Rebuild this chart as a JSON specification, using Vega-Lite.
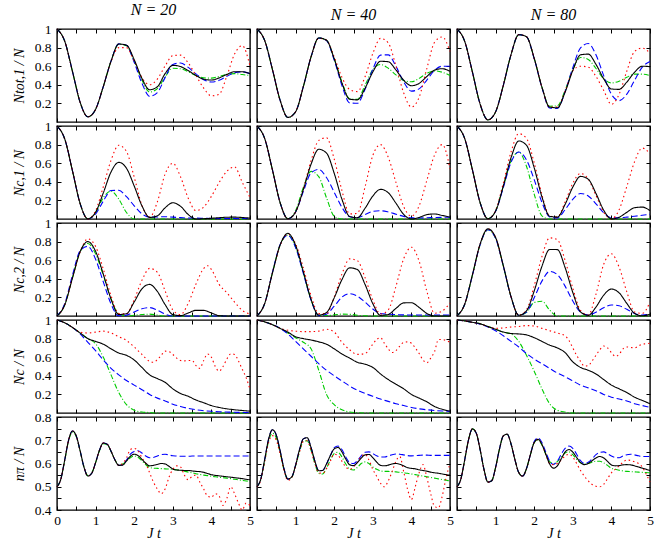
{
"$schema":"https://vega.github.io/schema/vega-lite/v6.json",
"padding":{"left":11,"top":1,"right":0,"bottom":0},
"background":"white",
"bounds":"flush",
"columns":3,
"spacing":{"row":4,"column":7},
"data":{"values":[
{"p":1,"N":20,"t":0,"k":1,"r":1,"b":1,"g":1},
{"p":1,"N":20,"t":0.2,"k":0.869,"r":0.869,"b":0.869,"g":0.869},
{"p":1,"N":20,"t":0.4,"k":0.545,"r":0.545,"b":0.545,"g":0.545},
{"p":1,"N":20,"t":0.6,"k":0.211,"r":0.211,"b":0.211,"g":0.211},
{"p":1,"N":20,"t":0.8,"k":0.056,"r":0.056,"b":0.056,"g":0.056},
{"p":1,"N":20,"t":1,"k":0.137,"r":0.137,"b":0.137,"g":0.137},
{"p":1,"N":20,"t":1.2,"k":0.382,"r":0.382,"b":0.382,"g":0.382},
{"p":1,"N":20,"t":1.4,"k":0.655,"r":0.65,"b":0.655,"g":0.655},
{"p":1,"N":20,"t":1.6,"k":0.838,"r":0.8,"b":0.84,"g":0.838},
{"p":1,"N":20,"t":1.8,"k":0.826,"r":0.8,"b":0.826,"g":0.819},
{"p":1,"N":20,"t":2,"k":0.67,"r":0.657,"b":0.642,"g":0.654},
{"p":1,"N":20,"t":2.2,"k":0.469,"r":0.479,"b":0.417,"g":0.452},
{"p":1,"N":20,"t":2.4,"k":0.347,"r":0.4,"b":0.276,"g":0.322},
{"p":1,"N":20,"t":2.6,"k":0.379,"r":0.462,"b":0.316,"g":0.358},
{"p":1,"N":20,"t":2.8,"k":0.52,"r":0.602,"b":0.477,"g":0.484},
{"p":1,"N":20,"t":3,"k":0.609,"r":0.714,"b":0.619,"g":0.578},
{"p":1,"N":20,"t":3.2,"k":0.596,"r":0.719,"b":0.634,"g":0.572},
{"p":1,"N":20,"t":3.4,"k":0.553,"r":0.635,"b":0.587,"g":0.54},
{"p":1,"N":20,"t":3.6,"k":0.5,"r":0.5,"b":0.517,"g":0.501},
{"p":1,"N":20,"t":3.8,"k":0.46,"r":0.365,"b":0.455,"g":0.474},
{"p":1,"N":20,"t":4,"k":0.451,"r":0.281,"b":0.43,"g":0.472},
{"p":1,"N":20,"t":4.2,"k":0.474,"r":0.299,"b":0.448,"g":0.489},
{"p":1,"N":20,"t":4.4,"k":0.512,"r":0.494,"b":0.491,"g":0.511},
{"p":1,"N":20,"t":4.6,"k":0.541,"r":0.731,"b":0.53,"g":0.52},
{"p":1,"N":20,"t":4.8,"k":0.54,"r":0.82,"b":0.54,"g":0.51},
{"p":1,"N":20,"t":5,"k":0.52,"r":0.6,"b":0.52,"g":0.5},
{"p":1,"N":40,"t":0,"k":1,"r":1,"b":1,"g":1},
{"p":1,"N":40,"t":0.2,"k":0.875,"r":0.875,"b":0.875,"g":0.875},
{"p":1,"N":40,"t":0.4,"k":0.564,"r":0.564,"b":0.564,"g":0.564},
{"p":1,"N":40,"t":0.6,"k":0.232,"r":0.232,"b":0.232,"g":0.232},
{"p":1,"N":40,"t":0.8,"k":0.049,"r":0.049,"b":0.049,"g":0.049},
{"p":1,"N":40,"t":1,"k":0.11,"r":0.11,"b":0.11,"g":0.11},
{"p":1,"N":40,"t":1.2,"k":0.38,"r":0.38,"b":0.38,"g":0.38},
{"p":1,"N":40,"t":1.4,"k":0.7,"r":0.7,"b":0.7,"g":0.7},
{"p":1,"N":40,"t":1.6,"k":0.904,"r":0.9,"b":0.904,"g":0.904},
{"p":1,"N":40,"t":1.8,"k":0.879,"r":0.88,"b":0.876,"g":0.879},
{"p":1,"N":40,"t":2,"k":0.68,"r":0.7,"b":0.666,"g":0.68},
{"p":1,"N":40,"t":2.2,"k":0.42,"r":0.48,"b":0.393,"g":0.43},
{"p":1,"N":40,"t":2.4,"k":0.245,"r":0.35,"b":0.206,"g":0.25},
{"p":1,"N":40,"t":2.6,"k":0.238,"r":0.327,"b":0.201,"g":0.243},
{"p":1,"N":40,"t":2.8,"k":0.363,"r":0.487,"b":0.353,"g":0.396},
{"p":1,"N":40,"t":3,"k":0.538,"r":0.736,"b":0.567,"g":0.564},
{"p":1,"N":40,"t":3.2,"k":0.653,"r":0.899,"b":0.719,"g":0.618},
{"p":1,"N":40,"t":3.4,"k":0.648,"r":0.851,"b":0.722,"g":0.578},
{"p":1,"N":40,"t":3.6,"k":0.559,"r":0.603,"b":0.599,"g":0.506},
{"p":1,"N":40,"t":3.8,"k":0.449,"r":0.313,"b":0.432,"g":0.446},
{"p":1,"N":40,"t":4,"k":0.39,"r":0.161,"b":0.332,"g":0.432},
{"p":1,"N":40,"t":4.2,"k":0.415,"r":0.266,"b":0.356,"g":0.469},
{"p":1,"N":40,"t":4.4,"k":0.489,"r":0.574,"b":0.451,"g":0.524},
{"p":1,"N":40,"t":4.6,"k":0.558,"r":0.858,"b":0.556,"g":0.55},
{"p":1,"N":40,"t":4.8,"k":0.573,"r":0.915,"b":0.6,"g":0.535},
{"p":1,"N":40,"t":5,"k":0.545,"r":0.76,"b":0.6,"g":0.5},
{"p":1,"N":80,"t":0,"k":1,"r":1,"b":1,"g":1},
{"p":1,"N":80,"t":0.2,"k":0.867,"r":0.867,"b":0.867,"g":0.867},
{"p":1,"N":80,"t":0.4,"k":0.537,"r":0.537,"b":0.537,"g":0.537},
{"p":1,"N":80,"t":0.6,"k":0.191,"r":0.191,"b":0.191,"g":0.191},
{"p":1,"N":80,"t":0.8,"k":0.023,"r":0.023,"b":0.023,"g":0.023},
{"p":1,"N":80,"t":1,"k":0.109,"r":0.109,"b":0.109,"g":0.109},
{"p":1,"N":80,"t":1.2,"k":0.394,"r":0.394,"b":0.394,"g":0.394},
{"p":1,"N":80,"t":1.4,"k":0.725,"r":0.725,"b":0.725,"g":0.725},
{"p":1,"N":80,"t":1.6,"k":0.939,"r":0.939,"b":0.939,"g":0.939},
{"p":1,"N":80,"t":1.8,"k":0.917,"r":0.917,"b":0.917,"g":0.917},
{"p":1,"N":80,"t":2,"k":0.685,"r":0.685,"b":0.68,"g":0.685},
{"p":1,"N":80,"t":2.2,"k":0.375,"r":0.375,"b":0.37,"g":0.375},
{"p":1,"N":80,"t":2.4,"k":0.16,"r":0.16,"b":0.15,"g":0.17},
{"p":1,"N":80,"t":2.6,"k":0.153,"r":0.16,"b":0.145,"g":0.174},
{"p":1,"N":80,"t":2.8,"k":0.32,"r":0.33,"b":0.327,"g":0.34},
{"p":1,"N":80,"t":3,"k":0.555,"r":0.55,"b":0.585,"g":0.563},
{"p":1,"N":80,"t":3.2,"k":0.722,"r":0.6,"b":0.797,"g":0.694},
{"p":1,"N":80,"t":3.4,"k":0.73,"r":0.59,"b":0.844,"g":0.673},
{"p":1,"N":80,"t":3.6,"k":0.62,"r":0.49,"b":0.722,"g":0.575},
{"p":1,"N":80,"t":3.8,"k":0.465,"r":0.34,"b":0.499,"g":0.466},
{"p":1,"N":80,"t":4,"k":0.355,"r":0.19,"b":0.298,"g":0.42},
{"p":1,"N":80,"t":4.2,"k":0.351,"r":0.299,"b":0.23,"g":0.439},
{"p":1,"N":80,"t":4.4,"k":0.43,"r":0.548,"b":0.3,"g":0.481},
{"p":1,"N":80,"t":4.6,"k":0.535,"r":0.759,"b":0.448,"g":0.515},
{"p":1,"N":80,"t":4.8,"k":0.6,"r":0.795,"b":0.59,"g":0.515},
{"p":1,"N":80,"t":5,"k":0.595,"r":0.74,"b":0.65,"g":0.5},
{"p":2,"N":20,"t":0,"k":1,"r":1,"b":1,"g":1},
{"p":2,"N":20,"t":0.2,"k":0.861,"r":0.861,"b":0.861,"g":0.861},
{"p":2,"N":20,"t":0.4,"k":0.519,"r":0.519,"b":0.519,"g":0.519},
{"p":2,"N":20,"t":0.6,"k":0.165,"r":0.165,"b":0.165,"g":0.165},
{"p":2,"N":20,"t":0.8,"k":0.001,"r":0.001,"b":0.001,"g":0.001},
{"p":2,"N":20,"t":1,"k":0.073,"r":0.089,"b":0.053,"g":0.07},
{"p":2,"N":20,"t":1.2,"k":0.281,"r":0.347,"b":0.193,"g":0.231},
{"p":2,"N":20,"t":1.4,"k":0.506,"r":0.632,"b":0.306,"g":0.3},
{"p":2,"N":20,"t":1.6,"k":0.609,"r":0.793,"b":0.309,"g":0.214},
{"p":2,"N":20,"t":1.8,"k":0.546,"r":0.726,"b":0.24,"g":0.07},
{"p":2,"N":20,"t":2,"k":0.355,"r":0.451,"b":0.142,"g":0},
{"p":2,"N":20,"t":2.2,"k":0.142,"r":0.147,"b":0.055,"g":0},
{"p":2,"N":20,"t":2.4,"k":0.017,"r":0.02,"b":0.02,"g":0},
{"p":2,"N":20,"t":2.6,"k":0.034,"r":0.184,"b":0.022,"g":0},
{"p":2,"N":20,"t":2.8,"k":0.12,"r":0.482,"b":0.025,"g":0},
{"p":2,"N":20,"t":3,"k":0.175,"r":0.6,"b":0.02,"g":0},
{"p":2,"N":20,"t":3.2,"k":0.137,"r":0.454,"b":0.015,"g":0},
{"p":2,"N":20,"t":3.4,"k":0.048,"r":0.224,"b":0.01,"g":0},
{"p":2,"N":20,"t":3.6,"k":0,"r":0.09,"b":0.01,"g":0},
{"p":2,"N":20,"t":3.8,"k":0.003,"r":0.128,"b":0.008,"g":0},
{"p":2,"N":20,"t":4,"k":0.008,"r":0.244,"b":0.006,"g":0},
{"p":2,"N":20,"t":4.2,"k":0.014,"r":0.392,"b":0.005,"g":0},
{"p":2,"N":20,"t":4.4,"k":0.019,"r":0.513,"b":0.005,"g":0},
{"p":2,"N":20,"t":4.6,"k":0.02,"r":0.56,"b":0.005,"g":0},
{"p":2,"N":20,"t":4.8,"k":0.016,"r":0.395,"b":0.005,"g":0},
{"p":2,"N":20,"t":5,"k":0.01,"r":0.23,"b":0.005,"g":0},
{"p":2,"N":40,"t":0,"k":1,"r":1,"b":1,"g":1},
{"p":2,"N":40,"t":0.2,"k":0.864,"r":0.864,"b":0.864,"g":0.864},
{"p":2,"N":40,"t":0.4,"k":0.528,"r":0.528,"b":0.528,"g":0.528},
{"p":2,"N":40,"t":0.6,"k":0.175,"r":0.175,"b":0.175,"g":0.175},
{"p":2,"N":40,"t":0.8,"k":0.003,"r":0.003,"b":0.003,"g":0.003},
{"p":2,"N":40,"t":1,"k":0.076,"r":0.076,"b":0.075,"g":0.09},
{"p":2,"N":40,"t":1.2,"k":0.316,"r":0.322,"b":0.294,"g":0.338},
{"p":2,"N":40,"t":1.4,"k":0.589,"r":0.626,"b":0.496,"g":0.512},
{"p":2,"N":40,"t":1.6,"k":0.75,"r":0.845,"b":0.533,"g":0.455},
{"p":2,"N":40,"t":1.8,"k":0.709,"r":0.873,"b":0.446,"g":0.229},
{"p":2,"N":40,"t":2,"k":0.492,"r":0.645,"b":0.288,"g":0.03},
{"p":2,"N":40,"t":2.2,"k":0.213,"r":0.307,"b":0.126,"g":0},
{"p":2,"N":40,"t":2.4,"k":0.027,"r":0.055,"b":0.024,"g":0},
{"p":2,"N":40,"t":2.6,"k":0.014,"r":0.061,"b":0.015,"g":0},
{"p":2,"N":40,"t":2.8,"k":0.116,"r":0.346,"b":0.047,"g":0},
{"p":2,"N":40,"t":3,"k":0.247,"r":0.683,"b":0.082,"g":0},
{"p":2,"N":40,"t":3.2,"k":0.319,"r":0.8,"b":0.089,"g":0},
{"p":2,"N":40,"t":3.4,"k":0.283,"r":0.664,"b":0.076,"g":0},
{"p":2,"N":40,"t":3.6,"k":0.17,"r":0.393,"b":0.052,"g":0},
{"p":2,"N":40,"t":3.8,"k":0.049,"r":0.134,"b":0.028,"g":0},
{"p":2,"N":40,"t":4,"k":0,"r":0.03,"b":0.012,"g":0},
{"p":2,"N":40,"t":4.2,"k":0.017,"r":0.142,"b":0.011,"g":0},
{"p":2,"N":40,"t":4.4,"k":0.047,"r":0.415,"b":0.013,"g":0},
{"p":2,"N":40,"t":4.6,"k":0.054,"r":0.688,"b":0.016,"g":0},
{"p":2,"N":40,"t":4.8,"k":0.038,"r":0.8,"b":0.018,"g":0},
{"p":2,"N":40,"t":5,"k":0.02,"r":0.54,"b":0.02,"g":0},
{"p":2,"N":80,"t":0,"k":1,"r":1,"b":1,"g":1},
{"p":2,"N":80,"t":0.2,"k":0.864,"r":0.864,"b":0.864,"g":0.864},
{"p":2,"N":80,"t":0.4,"k":0.528,"r":0.528,"b":0.528,"g":0.528},
{"p":2,"N":80,"t":0.6,"k":0.175,"r":0.175,"b":0.175,"g":0.175},
{"p":2,"N":80,"t":0.8,"k":0.003,"r":0.003,"b":0.003,"g":0.003},
{"p":2,"N":80,"t":1,"k":0.085,"r":0.093,"b":0.083,"g":0.087},
{"p":2,"N":80,"t":1.2,"k":0.354,"r":0.387,"b":0.338,"g":0.352},
{"p":2,"N":80,"t":1.4,"k":0.659,"r":0.721,"b":0.609,"g":0.621},
{"p":2,"N":80,"t":1.6,"k":0.839,"r":0.918,"b":0.72,"g":0.72},
{"p":2,"N":80,"t":1.8,"k":0.793,"r":0.868,"b":0.636,"g":0.567},
{"p":2,"N":80,"t":2,"k":0.551,"r":0.603,"b":0.423,"g":0.267},
{"p":2,"N":80,"t":2.2,"k":0.238,"r":0.26,"b":0.18,"g":0.034},
{"p":2,"N":80,"t":2.4,"k":0.03,"r":0.033,"b":0.022,"g":0},
{"p":2,"N":80,"t":2.6,"k":0.02,"r":0.023,"b":0.012,"g":0},
{"p":2,"N":80,"t":2.8,"k":0.157,"r":0.182,"b":0.1,"g":0},
{"p":2,"N":80,"t":3,"k":0.343,"r":0.385,"b":0.212,"g":0},
{"p":2,"N":80,"t":3.2,"k":0.458,"r":0.49,"b":0.274,"g":0},
{"p":2,"N":80,"t":3.4,"k":0.428,"r":0.429,"b":0.248,"g":0},
{"p":2,"N":80,"t":3.6,"k":0.275,"r":0.255,"b":0.163,"g":0},
{"p":2,"N":80,"t":3.8,"k":0.095,"r":0.073,"b":0.068,"g":0},
{"p":2,"N":80,"t":4,"k":0.001,"r":0,"b":0.012,"g":0},
{"p":2,"N":80,"t":4.2,"k":0.019,"r":0.1,"b":0.013,"g":0},
{"p":2,"N":80,"t":4.4,"k":0.072,"r":0.35,"b":0.02,"g":0},
{"p":2,"N":80,"t":4.6,"k":0.121,"r":0.616,"b":0.03,"g":0},
{"p":2,"N":80,"t":4.8,"k":0.128,"r":0.763,"b":0.04,"g":0},
{"p":2,"N":80,"t":5,"k":0.09,"r":0.7,"b":0.05,"g":0},
{"p":3,"N":20,"t":0,"k":0,"r":0,"b":0,"g":0},
{"p":3,"N":20,"t":0.2,"k":0.119,"r":0.12,"b":0.131,"g":0.122},
{"p":3,"N":20,"t":0.4,"k":0.407,"r":0.41,"b":0.437,"g":0.413},
{"p":3,"N":20,"t":0.6,"k":0.692,"r":0.69,"b":0.702,"g":0.691},
{"p":3,"N":20,"t":0.8,"k":0.8,"r":0.83,"b":0.749,"g":0.78},
{"p":3,"N":20,"t":1,"k":0.695,"r":0.747,"b":0.61,"g":0.668},
{"p":3,"N":20,"t":1.2,"k":0.449,"r":0.504,"b":0.367,"g":0.437},
{"p":3,"N":20,"t":1.4,"k":0.182,"r":0.217,"b":0.129,"g":0.182},
{"p":3,"N":20,"t":1.6,"k":0.016,"r":0.027,"b":0.002,"g":0.022},
{"p":3,"N":20,"t":1.8,"k":0.025,"r":0.022,"b":0.009,"g":0.002},
{"p":3,"N":20,"t":2,"k":0.151,"r":0.176,"b":0.043,"g":0.008},
{"p":3,"N":20,"t":2.2,"k":0.292,"r":0.383,"b":0.078,"g":0.016},
{"p":3,"N":20,"t":2.4,"k":0.34,"r":0.512,"b":0.09,"g":0.02},
{"p":3,"N":20,"t":2.6,"k":0.264,"r":0.47,"b":0.063,"g":0.01},
{"p":3,"N":20,"t":2.8,"k":0.123,"r":0.271,"b":0.021,"g":0},
{"p":3,"N":20,"t":3,"k":0.015,"r":0.066,"b":0,"g":0},
{"p":3,"N":20,"t":3.2,"k":0.004,"r":0.015,"b":0,"g":0},
{"p":3,"N":20,"t":3.4,"k":0.033,"r":0.137,"b":0,"g":0},
{"p":3,"N":20,"t":3.6,"k":0.061,"r":0.344,"b":0,"g":0},
{"p":3,"N":20,"t":3.8,"k":0.061,"r":0.51,"b":0,"g":0},
{"p":3,"N":20,"t":3.9,"r":0.54},
{"p":3,"N":20,"t":4,"k":0.033,"r":0.5,"b":0,"g":0},
{"p":3,"N":20,"t":4.2,"k":0.004,"r":0.34,"b":0,"g":0},
{"p":3,"N":20,"t":4.4,"k":0,"r":0.25,"b":0,"g":0},
{"p":3,"N":20,"t":4.6,"k":0,"r":0.15,"b":0,"g":0},
{"p":3,"N":20,"t":4.8,"k":0,"r":0.06,"b":0,"g":0},
{"p":3,"N":20,"t":5,"k":0,"r":0.02,"b":0,"g":0},
{"p":3,"N":40,"t":0,"k":0,"r":0,"b":0,"g":0},
{"p":3,"N":40,"t":0.2,"k":0.136,"r":0.135,"b":0.135,"g":0.135},
{"p":3,"N":40,"t":0.4,"k":0.463,"r":0.46,"b":0.47,"g":0.465},
{"p":3,"N":40,"t":0.6,"k":0.765,"r":0.76,"b":0.77,"g":0.765},
{"p":3,"N":40,"t":0.8,"k":0.889,"r":0.88,"b":0.868,"g":0.87},
{"p":3,"N":40,"t":1,"k":0.76,"r":0.778,"b":0.735,"g":0.74},
{"p":3,"N":40,"t":1.2,"k":0.477,"r":0.517,"b":0.458,"g":0.465},
{"p":3,"N":40,"t":1.4,"k":0.178,"r":0.22,"b":0.171,"g":0.175},
{"p":3,"N":40,"t":1.6,"k":0.01,"r":0.026,"b":0.004,"g":0.005},
{"p":3,"N":40,"t":1.8,"k":0.037,"r":0.025,"b":0.02,"g":0.005},
{"p":3,"N":40,"t":2,"k":0.195,"r":0.203,"b":0.105,"g":0.012},
{"p":3,"N":40,"t":2.2,"k":0.391,"r":0.45,"b":0.202,"g":0.02},
{"p":3,"N":40,"t":2.4,"k":0.518,"r":0.614,"b":0.24,"g":0.018},
{"p":3,"N":40,"t":2.6,"k":0.5,"r":0.595,"b":0.214,"g":0.008},
{"p":3,"N":40,"t":2.8,"k":0.339,"r":0.412,"b":0.149,"g":0.002},
{"p":3,"N":40,"t":3,"k":0.133,"r":0.173,"b":0.075,"g":0},
{"p":3,"N":40,"t":3.2,"k":0.007,"r":0.022,"b":0.027,"g":0},
{"p":3,"N":40,"t":3.4,"k":0.017,"r":0.065,"b":0.02,"g":0},
{"p":3,"N":40,"t":3.6,"k":0.082,"r":0.32,"b":0.015,"g":0},
{"p":3,"N":40,"t":3.8,"k":0.141,"r":0.616,"b":0.012,"g":0},
{"p":3,"N":40,"t":4,"k":0.143,"r":0.74,"b":0.01,"g":0},
{"p":3,"N":40,"t":4.2,"k":0.092,"r":0.59,"b":0.01,"g":0},
{"p":3,"N":40,"t":4.4,"k":0.028,"r":0.266,"b":0.01,"g":0},
{"p":3,"N":40,"t":4.6,"k":0,"r":0.03,"b":0.01,"g":0},
{"p":3,"N":40,"t":4.8,"k":0,"r":0.054,"b":0.01,"g":0},
{"p":3,"N":40,"t":5,"k":0,"r":0.14,"b":0.01,"g":0},
{"p":3,"N":80,"t":0,"k":0,"r":0,"b":0,"g":0},
{"p":3,"N":80,"t":0.2,"k":0.128,"r":0.128,"b":0.127,"g":0.127},
{"p":3,"N":80,"t":0.4,"k":0.444,"r":0.444,"b":0.439,"g":0.439},
{"p":3,"N":80,"t":0.6,"k":0.776,"r":0.776,"b":0.768,"g":0.768},
{"p":3,"N":80,"t":0.8,"k":0.937,"r":0.937,"b":0.927,"g":0.927},
{"p":3,"N":80,"t":1,"k":0.845,"r":0.845,"b":0.836,"g":0.836},
{"p":3,"N":80,"t":1.2,"k":0.541,"r":0.541,"b":0.536,"g":0.536},
{"p":3,"N":80,"t":1.4,"k":0.207,"r":0.207,"b":0.205,"g":0.205},
{"p":3,"N":80,"t":1.6,"k":0.008,"r":0.008,"b":0.008,"g":0.008},
{"p":3,"N":80,"t":1.8,"k":0.055,"r":0.067,"b":0.041,"g":0.039},
{"p":3,"N":80,"t":2,"k":0.269,"r":0.325,"b":0.197,"g":0.145},
{"p":3,"N":80,"t":2.2,"k":0.534,"r":0.639,"b":0.375,"g":0.159},
{"p":3,"N":80,"t":2.4,"k":0.715,"r":0.84,"b":0.479,"g":0.063},
{"p":3,"N":80,"t":2.6,"k":0.714,"r":0.82,"b":0.445,"g":0},
{"p":3,"N":80,"t":2.8,"k":0.521,"r":0.598,"b":0.321,"g":0},
{"p":3,"N":80,"t":3,"k":0.253,"r":0.299,"b":0.161,"g":0},
{"p":3,"N":80,"t":3.2,"k":0.044,"r":0.06,"b":0.041,"g":0},
{"p":3,"N":80,"t":3.4,"k":0.007,"r":0.011,"b":0.011,"g":0},
{"p":3,"N":80,"t":3.6,"k":0.096,"r":0.234,"b":0.041,"g":0},
{"p":3,"N":80,"t":3.8,"k":0.223,"r":0.556,"b":0.088,"g":0},
{"p":3,"N":80,"t":4,"k":0.29,"r":0.669,"b":0.119,"g":0},
{"p":3,"N":80,"t":4.2,"k":0.249,"r":0.525,"b":0.111,"g":0},
{"p":3,"N":80,"t":4.4,"k":0.135,"r":0.259,"b":0.072,"g":0},
{"p":3,"N":80,"t":4.6,"k":0.029,"r":0.042,"b":0.028,"g":0},
{"p":3,"N":80,"t":4.8,"k":0.002,"r":0.028,"b":0.01,"g":0},
{"p":3,"N":80,"t":5,"k":0.02,"r":0.15,"b":0.02,"g":0},
{"p":4,"N":20,"t":0,"k":1,"r":1,"b":1,"g":1},
{"p":4,"N":20,"t":0.2,"k":0.97,"r":0.97,"b":0.97,"g":0.97},
{"p":4,"N":20,"t":0.4,"k":0.92,"r":0.92,"b":0.92,"g":0.92},
{"p":4,"N":20,"t":0.6,"k":0.86,"r":0.87,"b":0.85,"g":0.86},
{"p":4,"N":20,"t":0.8,"k":0.8,"r":0.86,"b":0.76,"g":0.8},
{"p":4,"N":20,"t":1,"k":0.77,"r":0.87,"b":0.67,"g":0.745},
{"p":4,"N":20,"t":1.2,"k":0.74,"r":0.88,"b":0.57,"g":0.6},
{"p":4,"N":20,"t":1.4,"k":0.69,"r":0.86,"b":0.48,"g":0.41},
{"p":4,"N":20,"t":1.6,"k":0.645,"r":0.82,"b":0.41,"g":0.22},
{"p":4,"N":20,"t":1.8,"k":0.62,"r":0.78,"b":0.35,"g":0.09},
{"p":4,"N":20,"t":2,"k":0.57,"r":0.71,"b":0.3,"g":0.03},
{"p":4,"N":20,"t":2.2,"k":0.49,"r":0.63,"b":0.25,"g":0.01},
{"p":4,"N":20,"t":2.4,"k":0.41,"r":0.555,"b":0.2,"g":0.005},
{"p":4,"N":20,"t":2.6,"k":0.37,"r":0.575,"b":0.16,"g":0},
{"p":4,"N":20,"t":2.8,"k":0.33,"r":0.665,"b":0.13,"g":0},
{"p":4,"N":20,"t":3,"k":0.26,"r":0.63,"b":0.095,"g":0},
{"p":4,"N":20,"t":3.2,"k":0.21,"r":0.565,"b":0.07,"g":0},
{"p":4,"N":20,"t":3.4,"k":0.18,"r":0.565,"b":0.05,"g":0},
{"p":4,"N":20,"t":3.6,"k":0.14,"r":0.51,"b":0.035,"g":0},
{"p":4,"N":20,"t":3.8,"k":0.11,"r":0.565,"b":0.025,"g":0},
{"p":4,"N":20,"t":4,"k":0.08,"r":0.6,"b":0.018,"g":0},
{"p":4,"N":20,"t":4.2,"k":0.06,"r":0.45,"b":0.013,"g":0},
{"p":4,"N":20,"t":4.4,"k":0.045,"r":0.58,"b":0.01,"g":0},
{"p":4,"N":20,"t":4.6,"k":0.035,"r":0.63,"b":0.008,"g":0},
{"p":4,"N":20,"t":4.8,"k":0.027,"r":0.47,"b":0.006,"g":0},
{"p":4,"N":20,"t":5,"k":0.02,"r":0.255,"b":0.005,"g":0},
{"p":4,"N":20,"t":2.5,"r":0.545},{"p":4,"N":20,"t":2.7,"r":0.62},{"p":4,"N":20,"t":2.9,"r":0.66},{"p":4,"N":20,"t":3.1,"r":0.59},{"p":4,"N":20,"t":3.3,"r":0.56},{"p":4,"N":20,"t":3.5,"r":0.565},{"p":4,"N":20,"t":3.7,"r":0.48},{"p":4,"N":20,"t":3.9,"r":0.635},{"p":4,"N":20,"t":4.1,"r":0.5},{"p":4,"N":20,"t":4.3,"r":0.5},{"p":4,"N":20,"t":4.5,"r":0.635},{"p":4,"N":20,"t":4.7,"r":0.56},{"p":4,"N":20,"t":4.9,"r":0.38},
{"p":4,"N":40,"t":0,"k":1,"r":1,"b":1,"g":1},
{"p":4,"N":40,"t":0.2,"k":0.98,"r":0.98,"b":0.98,"g":0.98},
{"p":4,"N":40,"t":0.4,"k":0.95,"r":0.95,"b":0.95,"g":0.95},
{"p":4,"N":40,"t":0.6,"k":0.91,"r":0.91,"b":0.91,"g":0.91},
{"p":4,"N":40,"t":0.8,"k":0.87,"r":0.89,"b":0.85,"g":0.86},
{"p":4,"N":40,"t":1,"k":0.82,"r":0.88,"b":0.77,"g":0.81},
{"p":4,"N":40,"t":1.2,"k":0.8,"r":0.875,"b":0.69,"g":0.76},
{"p":4,"N":40,"t":1.4,"k":0.785,"r":0.875,"b":0.61,"g":0.69},
{"p":4,"N":40,"t":1.6,"k":0.765,"r":0.88,"b":0.53,"g":0.46},
{"p":4,"N":40,"t":1.8,"k":0.74,"r":0.9,"b":0.46,"g":0.2},
{"p":4,"N":40,"t":2,"k":0.69,"r":0.87,"b":0.4,"g":0.09},
{"p":4,"N":40,"t":2.2,"k":0.635,"r":0.76,"b":0.345,"g":0.035},
{"p":4,"N":40,"t":2.4,"k":0.59,"r":0.68,"b":0.29,"g":0.01},
{"p":4,"N":40,"t":2.6,"k":0.545,"r":0.63,"b":0.245,"g":0.003},
{"p":4,"N":40,"t":2.8,"k":0.525,"r":0.64,"b":0.21,"g":0},
{"p":4,"N":40,"t":3,"k":0.49,"r":0.74,"b":0.18,"g":0},
{"p":4,"N":40,"t":3.2,"k":0.42,"r":0.81,"b":0.15,"g":0},
{"p":4,"N":40,"t":3.4,"k":0.36,"r":0.69,"b":0.125,"g":0},
{"p":4,"N":40,"t":3.6,"k":0.31,"r":0.67,"b":0.1,"g":0},
{"p":4,"N":40,"t":3.8,"k":0.26,"r":0.76,"b":0.08,"g":0},
{"p":4,"N":40,"t":4,"k":0.2,"r":0.75,"b":0.06,"g":0},
{"p":4,"N":40,"t":4.2,"k":0.16,"r":0.64,"b":0.045,"g":0},
{"p":4,"N":40,"t":4.4,"k":0.12,"r":0.54,"b":0.035,"g":0},
{"p":4,"N":40,"t":4.6,"k":0.07,"r":0.66,"b":0.027,"g":0},
{"p":4,"N":40,"t":4.8,"k":0.04,"r":0.79,"b":0.022,"g":0},
{"p":4,"N":40,"t":5,"k":0.02,"r":0.76,"b":0.018,"g":0},
{"p":4,"N":40,"t":3.1,"r":0.79},{"p":4,"N":40,"t":3.3,"r":0.75},{"p":4,"N":40,"t":3.5,"r":0.65},{"p":4,"N":40,"t":3.7,"r":0.72},{"p":4,"N":40,"t":3.9,"r":0.765},{"p":4,"N":40,"t":4.1,"r":0.7},{"p":4,"N":40,"t":4.3,"r":0.57},{"p":4,"N":40,"t":4.5,"r":0.59},{"p":4,"N":40,"t":4.7,"r":0.79},{"p":4,"N":40,"t":4.9,"r":0.78},
{"p":4,"N":80,"t":0,"k":1,"r":1,"b":1,"g":1},
{"p":4,"N":80,"t":0.2,"k":0.99,"r":0.99,"b":0.99,"g":0.99},
{"p":4,"N":80,"t":0.4,"k":0.975,"r":0.975,"b":0.975,"g":0.975},
{"p":4,"N":80,"t":0.6,"k":0.96,"r":0.96,"b":0.955,"g":0.96},
{"p":4,"N":80,"t":0.8,"k":0.93,"r":0.93,"b":0.925,"g":0.93},
{"p":4,"N":80,"t":1,"k":0.9,"r":0.91,"b":0.885,"g":0.9},
{"p":4,"N":80,"t":1.2,"k":0.87,"r":0.915,"b":0.83,"g":0.87},
{"p":4,"N":80,"t":1.4,"k":0.855,"r":0.925,"b":0.77,"g":0.85},
{"p":4,"N":80,"t":1.6,"k":0.85,"r":0.93,"b":0.71,"g":0.77},
{"p":4,"N":80,"t":1.8,"k":0.84,"r":0.94,"b":0.64,"g":0.62},
{"p":4,"N":80,"t":2,"k":0.81,"r":0.935,"b":0.58,"g":0.45},
{"p":4,"N":80,"t":2.2,"k":0.77,"r":0.91,"b":0.53,"g":0.26},
{"p":4,"N":80,"t":2.4,"k":0.73,"r":0.885,"b":0.48,"g":0.1},
{"p":4,"N":80,"t":2.6,"k":0.7,"r":0.86,"b":0.43,"g":0.03},
{"p":4,"N":80,"t":2.8,"k":0.65,"r":0.83,"b":0.39,"g":0.01},
{"p":4,"N":80,"t":3,"k":0.55,"r":0.7,"b":0.345,"g":0},
{"p":4,"N":80,"t":3.2,"k":0.49,"r":0.555,"b":0.3,"g":0},
{"p":4,"N":80,"t":3.4,"k":0.46,"r":0.51,"b":0.27,"g":0},
{"p":4,"N":80,"t":3.6,"k":0.42,"r":0.62,"b":0.24,"g":0},
{"p":4,"N":80,"t":3.8,"k":0.36,"r":0.72,"b":0.2,"g":0},
{"p":4,"N":80,"t":4,"k":0.3,"r":0.65,"b":0.17,"g":0},
{"p":4,"N":80,"t":4.2,"k":0.26,"r":0.63,"b":0.15,"g":0},
{"p":4,"N":80,"t":4.4,"k":0.22,"r":0.71,"b":0.13,"g":0},
{"p":4,"N":80,"t":4.6,"k":0.17,"r":0.7,"b":0.1,"g":0},
{"p":4,"N":80,"t":4.8,"k":0.135,"r":0.74,"b":0.08,"g":0},
{"p":4,"N":80,"t":5,"k":0.1,"r":0.75,"b":0.06,"g":0},
{"p":4,"N":80,"t":2.9,"r":0.78},{"p":4,"N":80,"t":3.1,"r":0.62},{"p":4,"N":80,"t":3.3,"r":0.505},{"p":4,"N":80,"t":3.5,"r":0.56},{"p":4,"N":80,"t":3.7,"r":0.68},{"p":4,"N":80,"t":3.9,"r":0.7},{"p":4,"N":80,"t":4.1,"r":0.61},{"p":4,"N":80,"t":4.3,"r":0.69},{"p":4,"N":80,"t":4.5,"r":0.705},{"p":4,"N":80,"t":4.7,"r":0.72},{"p":4,"N":80,"t":4.9,"r":0.745},
{"p":5,"N":20,"t":0,"k":0.5,"r":0.5,"b":0.5,"g":0.5},
{"p":5,"N":20,"t":0.1,"k":0.533,"r":0.533,"b":0.533,"g":0.533},
{"p":5,"N":20,"t":0.2,"k":0.615,"r":0.615,"b":0.615,"g":0.613},
{"p":5,"N":20,"t":0.3,"k":0.7,"r":0.7,"b":0.7,"g":0.697},
{"p":5,"N":20,"t":0.4,"k":0.74,"r":0.74,"b":0.74,"g":0.735},
{"p":5,"N":20,"t":0.5,"k":0.718,"r":0.718,"b":0.718,"g":0.715},
{"p":5,"N":20,"t":0.6,"k":0.654,"r":0.654,"b":0.654,"g":0.652},
{"p":5,"N":20,"t":0.7,"k":0.584,"r":0.584,"b":0.584,"g":0.584},
{"p":5,"N":20,"t":0.8,"k":0.546,"r":0.546,"b":0.546,"g":0.548},
{"p":5,"N":20,"t":0.9,"k":0.558,"r":0.558,"b":0.558,"g":0.56},
{"p":5,"N":20,"t":1,"k":0.604,"r":0.604,"b":0.604,"g":0.604},
{"p":5,"N":20,"t":1.1,"k":0.657,"r":0.657,"b":0.657,"g":0.655},
{"p":5,"N":20,"t":1.2,"k":0.688,"r":0.688,"b":0.688,"g":0.685},
{"p":5,"N":20,"t":1.3,"k":0.683,"r":0.683,"b":0.683,"g":0.68},
{"p":5,"N":20,"t":1.4,"k":0.653,"r":0.653,"b":0.653,"g":0.652},
{"p":5,"N":20,"t":1.5,"k":0.616,"r":0.616,"b":0.616,"g":0.616},
{"p":5,"N":20,"t":1.6,"k":0.592,"r":0.592,"b":0.592,"g":0.595},
{"p":5,"N":20,"t":1.7,"k":0.593,"r":0.6,"b":0.595,"g":0.598},
{"p":5,"N":20,"t":1.8,"k":0.611,"r":0.625,"b":0.615,"g":0.61},
{"p":5,"N":20,"t":1.9,"k":0.631,"r":0.66,"b":0.64,"g":0.625},
{"p":5,"N":20,"t":2,"k":0.64,"r":0.665,"b":0.652,"g":0.632},
{"p":5,"N":20,"t":2.1,"k":0.634,"r":0.655,"b":0.655,"g":0.627},
{"p":5,"N":20,"t":2.2,"k":0.618,"r":0.625,"b":0.645,"g":0.612},
{"p":5,"N":20,"t":2.3,"k":0.601,"r":0.6,"b":0.632,"g":0.595},
{"p":5,"N":20,"t":2.4,"k":0.59,"r":0.56,"b":0.625,"g":0.583},
{"p":5,"N":20,"t":2.5,"k":0.592,"r":0.52,"b":0.626,"g":0.58},
{"p":5,"N":20,"t":2.6,"k":0.596,"r":0.49,"b":0.632,"g":0.579},
{"p":5,"N":20,"t":2.7,"k":0.6,"r":0.47,"b":0.638,"g":0.578},
{"p":5,"N":20,"t":2.8,"k":0.598,"r":0.49,"b":0.64,"g":0.577},
{"p":5,"N":20,"t":2.9,"k":0.588,"r":0.54,"b":0.637,"g":0.576},
{"p":5,"N":20,"t":3,"k":0.576,"r":0.575,"b":0.633,"g":0.575},
{"p":5,"N":20,"t":3.1,"k":0.572,"r":0.59,"b":0.632,"g":0.573},
{"p":5,"N":20,"t":3.2,"k":0.571,"r":0.585,"b":0.631,"g":0.57},
{"p":5,"N":20,"t":3.3,"k":0.57,"r":0.55,"b":0.631,"g":0.567},
{"p":5,"N":20,"t":3.4,"k":0.57,"r":0.53,"b":0.631,"g":0.563},
{"p":5,"N":20,"t":3.5,"k":0.568,"r":0.545,"b":0.632,"g":0.56},
{"p":5,"N":20,"t":3.6,"k":0.566,"r":0.55,"b":0.632,"g":0.556},
{"p":5,"N":20,"t":3.7,"k":0.565,"r":0.52,"b":0.632,"g":0.553},
{"p":5,"N":20,"t":3.8,"k":0.562,"r":0.49,"b":0.632,"g":0.55},
{"p":5,"N":20,"t":3.9,"k":0.557,"r":0.46,"b":0.632,"g":0.548},
{"p":5,"N":20,"t":4,"k":0.552,"r":0.455,"b":0.632,"g":0.545},
{"p":5,"N":20,"t":4.1,"k":0.549,"r":0.47,"b":0.632,"g":0.543},
{"p":5,"N":20,"t":4.2,"k":0.547,"r":0.46,"b":0.632,"g":0.541},
{"p":5,"N":20,"t":4.3,"k":0.545,"r":0.42,"b":0.632,"g":0.539},
{"p":5,"N":20,"t":4.4,"k":0.543,"r":0.45,"b":0.632,"g":0.537},
{"p":5,"N":20,"t":4.5,"k":0.541,"r":0.5,"b":0.632,"g":0.535},
{"p":5,"N":20,"t":4.6,"k":0.539,"r":0.47,"b":0.632,"g":0.532},
{"p":5,"N":20,"t":4.7,"k":0.537,"r":0.43,"b":0.632,"g":0.53},
{"p":5,"N":20,"t":4.8,"k":0.535,"r":0.4,"b":0.632,"g":0.527},
{"p":5,"N":20,"t":4.9,"k":0.532,"r":0.43,"b":0.632,"g":0.525},
{"p":5,"N":20,"t":5,"k":0.53,"r":0.42,"b":0.632,"g":0.523},
{"p":5,"N":40,"t":0,"k":0.5,"r":0.5,"b":0.5,"g":0.5},
{"p":5,"N":40,"t":0.1,"k":0.534,"r":0.53,"b":0.534,"g":0.532},
{"p":5,"N":40,"t":0.2,"k":0.618,"r":0.61,"b":0.618,"g":0.612},
{"p":5,"N":40,"t":0.3,"k":0.705,"r":0.69,"b":0.705,"g":0.695},
{"p":5,"N":40,"t":0.4,"k":0.745,"r":0.72,"b":0.745,"g":0.73},
{"p":5,"N":40,"t":0.5,"k":0.722,"r":0.7,"b":0.722,"g":0.71},
{"p":5,"N":40,"t":0.6,"k":0.654,"r":0.64,"b":0.654,"g":0.645},
{"p":5,"N":40,"t":0.7,"k":0.577,"r":0.57,"b":0.577,"g":0.572},
{"p":5,"N":40,"t":0.8,"k":0.533,"r":0.527,"b":0.533,"g":0.532},
{"p":5,"N":40,"t":0.9,"k":0.542,"r":0.54,"b":0.542,"g":0.54},
{"p":5,"N":40,"t":1,"k":0.593,"r":0.59,"b":0.593,"g":0.59},
{"p":5,"N":40,"t":1.1,"k":0.659,"r":0.65,"b":0.659,"g":0.65},
{"p":5,"N":40,"t":1.2,"k":0.706,"r":0.695,"b":0.706,"g":0.695},
{"p":5,"N":40,"t":1.3,"k":0.711,"r":0.698,"b":0.711,"g":0.698},
{"p":5,"N":40,"t":1.4,"k":0.669,"r":0.655,"b":0.669,"g":0.657},
{"p":5,"N":40,"t":1.5,"k":0.61,"r":0.6,"b":0.61,"g":0.6},
{"p":5,"N":40,"t":1.6,"k":0.569,"r":0.56,"b":0.569,"g":0.557},
{"p":5,"N":40,"t":1.7,"k":0.57,"r":0.558,"b":0.57,"g":0.555},
{"p":5,"N":40,"t":1.8,"k":0.598,"r":0.578,"b":0.598,"g":0.58},
{"p":5,"N":40,"t":1.9,"k":0.634,"r":0.61,"b":0.634,"g":0.615},
{"p":5,"N":40,"t":2,"k":0.663,"r":0.64,"b":0.668,"g":0.643},
{"p":5,"N":40,"t":2.1,"k":0.669,"r":0.635,"b":0.675,"g":0.648},
{"p":5,"N":40,"t":2.2,"k":0.65,"r":0.61,"b":0.66,"g":0.628},
{"p":5,"N":40,"t":2.3,"k":0.619,"r":0.585,"b":0.628,"g":0.598},
{"p":5,"N":40,"t":2.4,"k":0.595,"r":0.575,"b":0.604,"g":0.576},
{"p":5,"N":40,"t":2.5,"k":0.591,"r":0.585,"b":0.6,"g":0.572},
{"p":5,"N":40,"t":2.6,"k":0.604,"r":0.605,"b":0.612,"g":0.583},
{"p":5,"N":40,"t":2.7,"k":0.623,"r":0.63,"b":0.633,"g":0.6},
{"p":5,"N":40,"t":2.8,"k":0.637,"r":0.64,"b":0.648,"g":0.607},
{"p":5,"N":40,"t":2.9,"k":0.639,"r":0.615,"b":0.65,"g":0.6},
{"p":5,"N":40,"t":3,"k":0.625,"r":0.575,"b":0.643,"g":0.585},
{"p":5,"N":40,"t":3.1,"k":0.606,"r":0.545,"b":0.633,"g":0.575},
{"p":5,"N":40,"t":3.2,"k":0.592,"r":0.515,"b":0.628,"g":0.568},
{"p":5,"N":40,"t":3.3,"k":0.59,"r":0.5,"b":0.628,"g":0.566},
{"p":5,"N":40,"t":3.4,"k":0.593,"r":0.525,"b":0.632,"g":0.566},
{"p":5,"N":40,"t":3.5,"k":0.598,"r":0.565,"b":0.638,"g":0.565},
{"p":5,"N":40,"t":3.6,"k":0.6,"r":0.61,"b":0.641,"g":0.564},
{"p":5,"N":40,"t":3.7,"k":0.597,"r":0.63,"b":0.64,"g":0.562},
{"p":5,"N":40,"t":3.8,"k":0.59,"r":0.565,"b":0.637,"g":0.56},
{"p":5,"N":40,"t":3.9,"k":0.582,"r":0.49,"b":0.634,"g":0.558},
{"p":5,"N":40,"t":4,"k":0.579,"r":0.445,"b":0.633,"g":0.555},
{"p":5,"N":40,"t":4.1,"k":0.577,"r":0.5,"b":0.634,"g":0.552},
{"p":5,"N":40,"t":4.2,"k":0.573,"r":0.56,"b":0.635,"g":0.549},
{"p":5,"N":40,"t":4.3,"k":0.57,"r":0.595,"b":0.636,"g":0.546},
{"p":5,"N":40,"t":4.4,"k":0.567,"r":0.54,"b":0.636,"g":0.543},
{"p":5,"N":40,"t":4.5,"k":0.563,"r":0.47,"b":0.635,"g":0.54},
{"p":5,"N":40,"t":4.6,"k":0.56,"r":0.415,"b":0.635,"g":0.537},
{"p":5,"N":40,"t":4.7,"k":0.558,"r":0.41,"b":0.635,"g":0.534},
{"p":5,"N":40,"t":4.8,"k":0.555,"r":0.46,"b":0.635,"g":0.531},
{"p":5,"N":40,"t":4.9,"k":0.552,"r":0.54,"b":0.635,"g":0.528},
{"p":5,"N":40,"t":5,"k":0.55,"r":0.6,"b":0.635,"g":0.525},
{"p":5,"N":80,"t":0,"k":0.5,"r":0.5,"b":0.5,"g":0.5},
{"p":5,"N":80,"t":0.1,"k":0.533,"r":0.533,"b":0.533,"g":0.533},
{"p":5,"N":80,"t":0.2,"k":0.616,"r":0.616,"b":0.616,"g":0.616},
{"p":5,"N":80,"t":0.3,"k":0.703,"r":0.703,"b":0.703,"g":0.703},
{"p":5,"N":80,"t":0.4,"k":0.749,"r":0.749,"b":0.749,"g":0.749},
{"p":5,"N":80,"t":0.5,"k":0.73,"r":0.73,"b":0.73,"g":0.73},
{"p":5,"N":80,"t":0.6,"k":0.659,"r":0.659,"b":0.659,"g":0.659},
{"p":5,"N":80,"t":0.7,"k":0.574,"r":0.574,"b":0.574,"g":0.574},
{"p":5,"N":80,"t":0.8,"k":0.52,"r":0.52,"b":0.52,"g":0.52},
{"p":5,"N":80,"t":0.9,"k":0.526,"r":0.526,"b":0.526,"g":0.526},
{"p":5,"N":80,"t":1,"k":0.583,"r":0.583,"b":0.583,"g":0.583},
{"p":5,"N":80,"t":1.1,"k":0.662,"r":0.662,"b":0.662,"g":0.662},
{"p":5,"N":80,"t":1.2,"k":0.719,"r":0.719,"b":0.719,"g":0.719},
{"p":5,"N":80,"t":1.3,"k":0.726,"r":0.726,"b":0.726,"g":0.726},
{"p":5,"N":80,"t":1.4,"k":0.684,"r":0.684,"b":0.684,"g":0.684},
{"p":5,"N":80,"t":1.5,"k":0.617,"r":0.617,"b":0.617,"g":0.617},
{"p":5,"N":80,"t":1.6,"k":0.561,"r":0.561,"b":0.561,"g":0.561},
{"p":5,"N":80,"t":1.7,"k":0.546,"r":0.546,"b":0.546,"g":0.546},
{"p":5,"N":80,"t":1.8,"k":0.578,"r":0.578,"b":0.578,"g":0.578},
{"p":5,"N":80,"t":1.9,"k":0.637,"r":0.637,"b":0.637,"g":0.637},
{"p":5,"N":80,"t":2,"k":0.69,"r":0.69,"b":0.695,"g":0.69},
{"p":5,"N":80,"t":2.1,"k":0.704,"r":0.704,"b":0.71,"g":0.7},
{"p":5,"N":80,"t":2.2,"k":0.682,"r":0.682,"b":0.69,"g":0.68},
{"p":5,"N":80,"t":2.3,"k":0.64,"r":0.64,"b":0.65,"g":0.64},
{"p":5,"N":80,"t":2.4,"k":0.598,"r":0.6,"b":0.61,"g":0.608},
{"p":5,"N":80,"t":2.5,"k":0.58,"r":0.595,"b":0.596,"g":0.6},
{"p":5,"N":80,"t":2.6,"k":0.59,"r":0.6,"b":0.61,"g":0.608},
{"p":5,"N":80,"t":2.7,"k":0.62,"r":0.615,"b":0.64,"g":0.628},
{"p":5,"N":80,"t":2.8,"k":0.649,"r":0.632,"b":0.665,"g":0.645},
{"p":5,"N":80,"t":2.9,"k":0.66,"r":0.64,"b":0.675,"g":0.65},
{"p":5,"N":80,"t":3,"k":0.649,"r":0.628,"b":0.665,"g":0.638},
{"p":5,"N":80,"t":3.1,"k":0.626,"r":0.6,"b":0.64,"g":0.618},
{"p":5,"N":80,"t":3.2,"k":0.604,"r":0.57,"b":0.612,"g":0.603},
{"p":5,"N":80,"t":3.3,"k":0.595,"r":0.545,"b":0.6,"g":0.598},
{"p":5,"N":80,"t":3.4,"k":0.6,"r":0.525,"b":0.605,"g":0.6},
{"p":5,"N":80,"t":3.5,"k":0.612,"r":0.51,"b":0.62,"g":0.605},
{"p":5,"N":80,"t":3.6,"k":0.624,"r":0.502,"b":0.638,"g":0.61},
{"p":5,"N":80,"t":3.7,"k":0.63,"r":0.5,"b":0.648,"g":0.61},
{"p":5,"N":80,"t":3.8,"k":0.624,"r":0.51,"b":0.65,"g":0.603},
{"p":5,"N":80,"t":3.9,"k":0.609,"r":0.535,"b":0.642,"g":0.592},
{"p":5,"N":80,"t":4,"k":0.594,"r":0.56,"b":0.632,"g":0.58},
{"p":5,"N":80,"t":4.1,"k":0.59,"r":0.575,"b":0.626,"g":0.575},
{"p":5,"N":80,"t":4.2,"k":0.591,"r":0.59,"b":0.625,"g":0.571},
{"p":5,"N":80,"t":4.3,"k":0.594,"r":0.605,"b":0.632,"g":0.568},
{"p":5,"N":80,"t":4.4,"k":0.595,"r":0.615,"b":0.638,"g":0.566},
{"p":5,"N":80,"t":4.5,"k":0.594,"r":0.613,"b":0.64,"g":0.565},
{"p":5,"N":80,"t":4.6,"k":0.59,"r":0.607,"b":0.637,"g":0.564},
{"p":5,"N":80,"t":4.7,"k":0.585,"r":0.6,"b":0.633,"g":0.563},
{"p":5,"N":80,"t":4.8,"k":0.58,"r":0.585,"b":0.63,"g":0.562},
{"p":5,"N":80,"t":4.9,"k":0.575,"r":0.555,"b":0.63,"g":0.561},
{"p":5,"N":80,"t":5,"k":0.57,"r":0.52,"b":0.63,"g":0.56}
]},
"transform":[{"fold":["g","b","r","k"],"as":["s","v"]},{"filter":"isValid(datum.v)"}],
"concat":[
{"width":193,"height":93,"title":{"text":"N = 20"},"transform":[{"filter":"datum.p==1&&datum.N==20"}],"layer":[{"mark":{"type":"line","interpolate":"monotone"},"encoding":{"x":{"field":"t","type":"quantitative","scale":{"domain":[0,5],"nice":false},"axis":{"orient":"bottom","values":[0,0.5,1,1.5,2,2.5,3,3.5,4,4.5,5],"labels":false,"title":null}},"y":{"field":"v","type":"quantitative","scale":{"domain":[0,1],"nice":false},"axis":{"orient":"left","values":[0.2,0.4,0.6,0.8,1],"labelExpr":"''+datum.value","title":"Ntot,1 / N"}},"color":{"field":"s","type":"nominal","scale":{"domain":["g","b","r","k"],"range":["#00cc00","#0000ff","#ff0000","#000000"]},"legend":null},"strokeDash":{"field":"s","type":"nominal","scale":{"domain":["g","b","r","k"],"range":[[5,2,1,2],[6,3],[1.5,3],[1,0]]},"legend":null},"strokeWidth":{"field":"s","type":"ordinal","scale":{"domain":["g","b","r","k"],"range":[1.1,1.1,1.8,1.5]},"legend":null}}},{"mark":{"type":"line","opacity":0},"encoding":{"x":{"field":"t","type":"quantitative","axis":{"orient":"top","values":[0,0.5,1,1.5,2,2.5,3,3.5,4,4.5,5],"labels":false,"title":null}},"y":{"field":"v","type":"quantitative","axis":{"orient":"right","values":[0.2,0.4,0.6,0.8,1],"labels":false,"title":null}}}}],"resolve":{"axis":{"x":"independent","y":"independent"}}},
{"width":193,"height":93,"title":{"text":"N = 40"},"transform":[{"filter":"datum.p==1&&datum.N==40"}],"layer":[{"mark":{"type":"line","interpolate":"monotone"},"encoding":{"x":{"field":"t","type":"quantitative","scale":{"domain":[0,5],"nice":false},"axis":{"orient":"bottom","values":[0,0.5,1,1.5,2,2.5,3,3.5,4,4.5,5],"labels":false,"title":null}},"y":{"field":"v","type":"quantitative","scale":{"domain":[0,1],"nice":false},"axis":{"orient":"left","values":[0.2,0.4,0.6,0.8,1],"labels":false,"title":null}},"color":{"field":"s","type":"nominal","scale":{"domain":["g","b","r","k"],"range":["#00cc00","#0000ff","#ff0000","#000000"]},"legend":null},"strokeDash":{"field":"s","type":"nominal","scale":{"domain":["g","b","r","k"],"range":[[5,2,1,2],[6,3],[1.5,3],[1,0]]},"legend":null},"strokeWidth":{"field":"s","type":"ordinal","scale":{"domain":["g","b","r","k"],"range":[1.1,1.1,1.8,1.5]},"legend":null}}},{"mark":{"type":"line","opacity":0},"encoding":{"x":{"field":"t","type":"quantitative","axis":{"orient":"top","values":[0,0.5,1,1.5,2,2.5,3,3.5,4,4.5,5],"labels":false,"title":null}},"y":{"field":"v","type":"quantitative","axis":{"orient":"right","values":[0.2,0.4,0.6,0.8,1],"labels":false,"title":null}}}}],"resolve":{"axis":{"x":"independent","y":"independent"}}},
{"width":193,"height":93,"title":{"text":"N = 80"},"transform":[{"filter":"datum.p==1&&datum.N==80"}],"layer":[{"mark":{"type":"line","interpolate":"monotone"},"encoding":{"x":{"field":"t","type":"quantitative","scale":{"domain":[0,5],"nice":false},"axis":{"orient":"bottom","values":[0,0.5,1,1.5,2,2.5,3,3.5,4,4.5,5],"labels":false,"title":null}},"y":{"field":"v","type":"quantitative","scale":{"domain":[0,1],"nice":false},"axis":{"orient":"left","values":[0.2,0.4,0.6,0.8,1],"labels":false,"title":null}},"color":{"field":"s","type":"nominal","scale":{"domain":["g","b","r","k"],"range":["#00cc00","#0000ff","#ff0000","#000000"]},"legend":null},"strokeDash":{"field":"s","type":"nominal","scale":{"domain":["g","b","r","k"],"range":[[5,2,1,2],[6,3],[1.5,3],[1,0]]},"legend":null},"strokeWidth":{"field":"s","type":"ordinal","scale":{"domain":["g","b","r","k"],"range":[1.1,1.1,1.8,1.5]},"legend":null}}},{"mark":{"type":"line","opacity":0},"encoding":{"x":{"field":"t","type":"quantitative","axis":{"orient":"top","values":[0,0.5,1,1.5,2,2.5,3,3.5,4,4.5,5],"labels":false,"title":null}},"y":{"field":"v","type":"quantitative","axis":{"orient":"right","values":[0.2,0.4,0.6,0.8,1],"labels":false,"title":null}}}}],"resolve":{"axis":{"x":"independent","y":"independent"}}},
{"width":193,"height":93,"transform":[{"filter":"datum.p==2&&datum.N==20"}],"layer":[{"mark":{"type":"line","interpolate":"monotone"},"encoding":{"x":{"field":"t","type":"quantitative","scale":{"domain":[0,5],"nice":false},"axis":{"orient":"bottom","values":[0,0.5,1,1.5,2,2.5,3,3.5,4,4.5,5],"labels":false,"title":null}},"y":{"field":"v","type":"quantitative","scale":{"domain":[0,1],"nice":false},"axis":{"orient":"left","values":[0.2,0.4,0.6,0.8,1],"labelExpr":"''+datum.value","title":"Nc,1 / N"}},"color":{"field":"s","type":"nominal","scale":{"domain":["g","b","r","k"],"range":["#00cc00","#0000ff","#ff0000","#000000"]},"legend":null},"strokeDash":{"field":"s","type":"nominal","scale":{"domain":["g","b","r","k"],"range":[[5,2,1,2],[6,3],[1.5,3],[1,0]]},"legend":null},"strokeWidth":{"field":"s","type":"ordinal","scale":{"domain":["g","b","r","k"],"range":[1.1,1.1,1.8,1.5]},"legend":null}}},{"mark":{"type":"line","opacity":0},"encoding":{"x":{"field":"t","type":"quantitative","axis":{"orient":"top","values":[0,0.5,1,1.5,2,2.5,3,3.5,4,4.5,5],"labels":false,"title":null}},"y":{"field":"v","type":"quantitative","axis":{"orient":"right","values":[0.2,0.4,0.6,0.8,1],"labels":false,"title":null}}}}],"resolve":{"axis":{"x":"independent","y":"independent"}}},
{"width":193,"height":93,"transform":[{"filter":"datum.p==2&&datum.N==40"}],"layer":[{"mark":{"type":"line","interpolate":"monotone"},"encoding":{"x":{"field":"t","type":"quantitative","scale":{"domain":[0,5],"nice":false},"axis":{"orient":"bottom","values":[0,0.5,1,1.5,2,2.5,3,3.5,4,4.5,5],"labels":false,"title":null}},"y":{"field":"v","type":"quantitative","scale":{"domain":[0,1],"nice":false},"axis":{"orient":"left","values":[0.2,0.4,0.6,0.8,1],"labels":false,"title":null}},"color":{"field":"s","type":"nominal","scale":{"domain":["g","b","r","k"],"range":["#00cc00","#0000ff","#ff0000","#000000"]},"legend":null},"strokeDash":{"field":"s","type":"nominal","scale":{"domain":["g","b","r","k"],"range":[[5,2,1,2],[6,3],[1.5,3],[1,0]]},"legend":null},"strokeWidth":{"field":"s","type":"ordinal","scale":{"domain":["g","b","r","k"],"range":[1.1,1.1,1.8,1.5]},"legend":null}}},{"mark":{"type":"line","opacity":0},"encoding":{"x":{"field":"t","type":"quantitative","axis":{"orient":"top","values":[0,0.5,1,1.5,2,2.5,3,3.5,4,4.5,5],"labels":false,"title":null}},"y":{"field":"v","type":"quantitative","axis":{"orient":"right","values":[0.2,0.4,0.6,0.8,1],"labels":false,"title":null}}}}],"resolve":{"axis":{"x":"independent","y":"independent"}}},
{"width":193,"height":93,"transform":[{"filter":"datum.p==2&&datum.N==80"}],"layer":[{"mark":{"type":"line","interpolate":"monotone"},"encoding":{"x":{"field":"t","type":"quantitative","scale":{"domain":[0,5],"nice":false},"axis":{"orient":"bottom","values":[0,0.5,1,1.5,2,2.5,3,3.5,4,4.5,5],"labels":false,"title":null}},"y":{"field":"v","type":"quantitative","scale":{"domain":[0,1],"nice":false},"axis":{"orient":"left","values":[0.2,0.4,0.6,0.8,1],"labels":false,"title":null}},"color":{"field":"s","type":"nominal","scale":{"domain":["g","b","r","k"],"range":["#00cc00","#0000ff","#ff0000","#000000"]},"legend":null},"strokeDash":{"field":"s","type":"nominal","scale":{"domain":["g","b","r","k"],"range":[[5,2,1,2],[6,3],[1.5,3],[1,0]]},"legend":null},"strokeWidth":{"field":"s","type":"ordinal","scale":{"domain":["g","b","r","k"],"range":[1.1,1.1,1.8,1.5]},"legend":null}}},{"mark":{"type":"line","opacity":0},"encoding":{"x":{"field":"t","type":"quantitative","axis":{"orient":"top","values":[0,0.5,1,1.5,2,2.5,3,3.5,4,4.5,5],"labels":false,"title":null}},"y":{"field":"v","type":"quantitative","axis":{"orient":"right","values":[0.2,0.4,0.6,0.8,1],"labels":false,"title":null}}}}],"resolve":{"axis":{"x":"independent","y":"independent"}}},
{"width":193,"height":93,"transform":[{"filter":"datum.p==3&&datum.N==20"}],"layer":[{"mark":{"type":"line","interpolate":"monotone"},"encoding":{"x":{"field":"t","type":"quantitative","scale":{"domain":[0,5],"nice":false},"axis":{"orient":"bottom","values":[0,0.5,1,1.5,2,2.5,3,3.5,4,4.5,5],"labels":false,"title":null}},"y":{"field":"v","type":"quantitative","scale":{"domain":[0,1],"nice":false},"axis":{"orient":"left","values":[0.2,0.4,0.6,0.8,1],"labelExpr":"''+datum.value","title":"Nc,2 / N"}},"color":{"field":"s","type":"nominal","scale":{"domain":["g","b","r","k"],"range":["#00cc00","#0000ff","#ff0000","#000000"]},"legend":null},"strokeDash":{"field":"s","type":"nominal","scale":{"domain":["g","b","r","k"],"range":[[5,2,1,2],[6,3],[1.5,3],[1,0]]},"legend":null},"strokeWidth":{"field":"s","type":"ordinal","scale":{"domain":["g","b","r","k"],"range":[1.1,1.1,1.8,1.5]},"legend":null}}},{"mark":{"type":"line","opacity":0},"encoding":{"x":{"field":"t","type":"quantitative","axis":{"orient":"top","values":[0,0.5,1,1.5,2,2.5,3,3.5,4,4.5,5],"labels":false,"title":null}},"y":{"field":"v","type":"quantitative","axis":{"orient":"right","values":[0.2,0.4,0.6,0.8,1],"labels":false,"title":null}}}}],"resolve":{"axis":{"x":"independent","y":"independent"}}},
{"width":193,"height":93,"transform":[{"filter":"datum.p==3&&datum.N==40"}],"layer":[{"mark":{"type":"line","interpolate":"monotone"},"encoding":{"x":{"field":"t","type":"quantitative","scale":{"domain":[0,5],"nice":false},"axis":{"orient":"bottom","values":[0,0.5,1,1.5,2,2.5,3,3.5,4,4.5,5],"labels":false,"title":null}},"y":{"field":"v","type":"quantitative","scale":{"domain":[0,1],"nice":false},"axis":{"orient":"left","values":[0.2,0.4,0.6,0.8,1],"labels":false,"title":null}},"color":{"field":"s","type":"nominal","scale":{"domain":["g","b","r","k"],"range":["#00cc00","#0000ff","#ff0000","#000000"]},"legend":null},"strokeDash":{"field":"s","type":"nominal","scale":{"domain":["g","b","r","k"],"range":[[5,2,1,2],[6,3],[1.5,3],[1,0]]},"legend":null},"strokeWidth":{"field":"s","type":"ordinal","scale":{"domain":["g","b","r","k"],"range":[1.1,1.1,1.8,1.5]},"legend":null}}},{"mark":{"type":"line","opacity":0},"encoding":{"x":{"field":"t","type":"quantitative","axis":{"orient":"top","values":[0,0.5,1,1.5,2,2.5,3,3.5,4,4.5,5],"labels":false,"title":null}},"y":{"field":"v","type":"quantitative","axis":{"orient":"right","values":[0.2,0.4,0.6,0.8,1],"labels":false,"title":null}}}}],"resolve":{"axis":{"x":"independent","y":"independent"}}},
{"width":193,"height":93,"transform":[{"filter":"datum.p==3&&datum.N==80"}],"layer":[{"mark":{"type":"line","interpolate":"monotone"},"encoding":{"x":{"field":"t","type":"quantitative","scale":{"domain":[0,5],"nice":false},"axis":{"orient":"bottom","values":[0,0.5,1,1.5,2,2.5,3,3.5,4,4.5,5],"labels":false,"title":null}},"y":{"field":"v","type":"quantitative","scale":{"domain":[0,1],"nice":false},"axis":{"orient":"left","values":[0.2,0.4,0.6,0.8,1],"labels":false,"title":null}},"color":{"field":"s","type":"nominal","scale":{"domain":["g","b","r","k"],"range":["#00cc00","#0000ff","#ff0000","#000000"]},"legend":null},"strokeDash":{"field":"s","type":"nominal","scale":{"domain":["g","b","r","k"],"range":[[5,2,1,2],[6,3],[1.5,3],[1,0]]},"legend":null},"strokeWidth":{"field":"s","type":"ordinal","scale":{"domain":["g","b","r","k"],"range":[1.1,1.1,1.8,1.5]},"legend":null}}},{"mark":{"type":"line","opacity":0},"encoding":{"x":{"field":"t","type":"quantitative","axis":{"orient":"top","values":[0,0.5,1,1.5,2,2.5,3,3.5,4,4.5,5],"labels":false,"title":null}},"y":{"field":"v","type":"quantitative","axis":{"orient":"right","values":[0.2,0.4,0.6,0.8,1],"labels":false,"title":null}}}}],"resolve":{"axis":{"x":"independent","y":"independent"}}},
{"width":193,"height":93,"transform":[{"filter":"datum.p==4&&datum.N==20"}],"layer":[{"mark":{"type":"line","interpolate":"monotone"},"encoding":{"x":{"field":"t","type":"quantitative","scale":{"domain":[0,5],"nice":false},"axis":{"orient":"bottom","values":[0,0.5,1,1.5,2,2.5,3,3.5,4,4.5,5],"labels":false,"title":null}},"y":{"field":"v","type":"quantitative","scale":{"domain":[0,1],"nice":false},"axis":{"orient":"left","values":[0.2,0.4,0.6,0.8,1],"labelExpr":"''+datum.value","title":"Nc / N"}},"color":{"field":"s","type":"nominal","scale":{"domain":["g","b","r","k"],"range":["#00cc00","#0000ff","#ff0000","#000000"]},"legend":null},"strokeDash":{"field":"s","type":"nominal","scale":{"domain":["g","b","r","k"],"range":[[5,2,1,2],[6,3],[1.5,3],[1,0]]},"legend":null},"strokeWidth":{"field":"s","type":"ordinal","scale":{"domain":["g","b","r","k"],"range":[1.1,1.1,1.8,1.5]},"legend":null}}},{"mark":{"type":"line","opacity":0},"encoding":{"x":{"field":"t","type":"quantitative","axis":{"orient":"top","values":[0,0.5,1,1.5,2,2.5,3,3.5,4,4.5,5],"labels":false,"title":null}},"y":{"field":"v","type":"quantitative","axis":{"orient":"right","values":[0.2,0.4,0.6,0.8,1],"labels":false,"title":null}}}}],"resolve":{"axis":{"x":"independent","y":"independent"}}},
{"width":193,"height":93,"transform":[{"filter":"datum.p==4&&datum.N==40"}],"layer":[{"mark":{"type":"line","interpolate":"monotone"},"encoding":{"x":{"field":"t","type":"quantitative","scale":{"domain":[0,5],"nice":false},"axis":{"orient":"bottom","values":[0,0.5,1,1.5,2,2.5,3,3.5,4,4.5,5],"labels":false,"title":null}},"y":{"field":"v","type":"quantitative","scale":{"domain":[0,1],"nice":false},"axis":{"orient":"left","values":[0.2,0.4,0.6,0.8,1],"labels":false,"title":null}},"color":{"field":"s","type":"nominal","scale":{"domain":["g","b","r","k"],"range":["#00cc00","#0000ff","#ff0000","#000000"]},"legend":null},"strokeDash":{"field":"s","type":"nominal","scale":{"domain":["g","b","r","k"],"range":[[5,2,1,2],[6,3],[1.5,3],[1,0]]},"legend":null},"strokeWidth":{"field":"s","type":"ordinal","scale":{"domain":["g","b","r","k"],"range":[1.1,1.1,1.8,1.5]},"legend":null}}},{"mark":{"type":"line","opacity":0},"encoding":{"x":{"field":"t","type":"quantitative","axis":{"orient":"top","values":[0,0.5,1,1.5,2,2.5,3,3.5,4,4.5,5],"labels":false,"title":null}},"y":{"field":"v","type":"quantitative","axis":{"orient":"right","values":[0.2,0.4,0.6,0.8,1],"labels":false,"title":null}}}}],"resolve":{"axis":{"x":"independent","y":"independent"}}},
{"width":193,"height":93,"transform":[{"filter":"datum.p==4&&datum.N==80"}],"layer":[{"mark":{"type":"line","interpolate":"monotone"},"encoding":{"x":{"field":"t","type":"quantitative","scale":{"domain":[0,5],"nice":false},"axis":{"orient":"bottom","values":[0,0.5,1,1.5,2,2.5,3,3.5,4,4.5,5],"labels":false,"title":null}},"y":{"field":"v","type":"quantitative","scale":{"domain":[0,1],"nice":false},"axis":{"orient":"left","values":[0.2,0.4,0.6,0.8,1],"labels":false,"title":null}},"color":{"field":"s","type":"nominal","scale":{"domain":["g","b","r","k"],"range":["#00cc00","#0000ff","#ff0000","#000000"]},"legend":null},"strokeDash":{"field":"s","type":"nominal","scale":{"domain":["g","b","r","k"],"range":[[5,2,1,2],[6,3],[1.5,3],[1,0]]},"legend":null},"strokeWidth":{"field":"s","type":"ordinal","scale":{"domain":["g","b","r","k"],"range":[1.1,1.1,1.8,1.5]},"legend":null}}},{"mark":{"type":"line","opacity":0},"encoding":{"x":{"field":"t","type":"quantitative","axis":{"orient":"top","values":[0,0.5,1,1.5,2,2.5,3,3.5,4,4.5,5],"labels":false,"title":null}},"y":{"field":"v","type":"quantitative","axis":{"orient":"right","values":[0.2,0.4,0.6,0.8,1],"labels":false,"title":null}}}}],"resolve":{"axis":{"x":"independent","y":"independent"}}},
{"width":193,"height":93,"transform":[{"filter":"datum.p==5&&datum.N==20"}],"layer":[{"mark":{"type":"line","interpolate":"monotone"},"encoding":{"x":{"field":"t","type":"quantitative","scale":{"domain":[0,5],"nice":false},"axis":{"orient":"bottom","values":[0,0.5,1,1.5,2,2.5,3,3.5,4,4.5,5],"labelExpr":"datum.value%1==0?''+datum.value:''","labelPadding":7,"title":"J t","titlePadding":0}},"y":{"field":"v","type":"quantitative","scale":{"domain":[0.4,0.8],"nice":false,"zero":false},"axis":{"orient":"left","values":[0.4,0.45,0.5,0.55,0.6,0.65,0.7,0.75,0.8],"labelExpr":"round(datum.value*100)%10==0?''+datum.value:''","title":"nπ / N"}},"color":{"field":"s","type":"nominal","scale":{"domain":["g","b","r","k"],"range":["#00cc00","#0000ff","#ff0000","#000000"]},"legend":null},"strokeDash":{"field":"s","type":"nominal","scale":{"domain":["g","b","r","k"],"range":[[5,2,1,2],[6,3],[1.5,3],[1,0]]},"legend":null},"strokeWidth":{"field":"s","type":"ordinal","scale":{"domain":["g","b","r","k"],"range":[1.1,1.1,1.8,1.5]},"legend":null}}},{"mark":{"type":"line","opacity":0},"encoding":{"x":{"field":"t","type":"quantitative","axis":{"orient":"top","values":[0,0.5,1,1.5,2,2.5,3,3.5,4,4.5,5],"labels":false,"title":null}},"y":{"field":"v","type":"quantitative","axis":{"orient":"right","values":[0.4,0.45,0.5,0.55,0.6,0.65,0.7,0.75,0.8],"labels":false,"title":null}}}}],"resolve":{"axis":{"x":"independent","y":"independent"}}},
{"width":193,"height":93,"transform":[{"filter":"datum.p==5&&datum.N==40"}],"layer":[{"mark":{"type":"line","interpolate":"monotone"},"encoding":{"x":{"field":"t","type":"quantitative","scale":{"domain":[0,5],"nice":false},"axis":{"orient":"bottom","values":[0,0.5,1,1.5,2,2.5,3,3.5,4,4.5,5],"labelExpr":"datum.value%1==0&&datum.value>0?''+datum.value:''","labelPadding":7,"title":"J t","titlePadding":0}},"y":{"field":"v","type":"quantitative","scale":{"domain":[0.4,0.8],"nice":false,"zero":false},"axis":{"orient":"left","values":[0.4,0.45,0.5,0.55,0.6,0.65,0.7,0.75,0.8],"labels":false,"title":null}},"color":{"field":"s","type":"nominal","scale":{"domain":["g","b","r","k"],"range":["#00cc00","#0000ff","#ff0000","#000000"]},"legend":null},"strokeDash":{"field":"s","type":"nominal","scale":{"domain":["g","b","r","k"],"range":[[5,2,1,2],[6,3],[1.5,3],[1,0]]},"legend":null},"strokeWidth":{"field":"s","type":"ordinal","scale":{"domain":["g","b","r","k"],"range":[1.1,1.1,1.8,1.5]},"legend":null}}},{"mark":{"type":"line","opacity":0},"encoding":{"x":{"field":"t","type":"quantitative","axis":{"orient":"top","values":[0,0.5,1,1.5,2,2.5,3,3.5,4,4.5,5],"labels":false,"title":null}},"y":{"field":"v","type":"quantitative","axis":{"orient":"right","values":[0.4,0.45,0.5,0.55,0.6,0.65,0.7,0.75,0.8],"labels":false,"title":null}}}}],"resolve":{"axis":{"x":"independent","y":"independent"}}},
{"width":193,"height":93,"transform":[{"filter":"datum.p==5&&datum.N==80"}],"layer":[{"mark":{"type":"line","interpolate":"monotone"},"encoding":{"x":{"field":"t","type":"quantitative","scale":{"domain":[0,5],"nice":false},"axis":{"orient":"bottom","values":[0,0.5,1,1.5,2,2.5,3,3.5,4,4.5,5],"labelExpr":"datum.value%1==0&&datum.value>0?''+datum.value:''","labelPadding":7,"title":"J t","titlePadding":0}},"y":{"field":"v","type":"quantitative","scale":{"domain":[0.4,0.8],"nice":false,"zero":false},"axis":{"orient":"left","values":[0.4,0.45,0.5,0.55,0.6,0.65,0.7,0.75,0.8],"labels":false,"title":null}},"color":{"field":"s","type":"nominal","scale":{"domain":["g","b","r","k"],"range":["#00cc00","#0000ff","#ff0000","#000000"]},"legend":null},"strokeDash":{"field":"s","type":"nominal","scale":{"domain":["g","b","r","k"],"range":[[5,2,1,2],[6,3],[1.5,3],[1,0]]},"legend":null},"strokeWidth":{"field":"s","type":"ordinal","scale":{"domain":["g","b","r","k"],"range":[1.1,1.1,1.8,1.5]},"legend":null}}},{"mark":{"type":"line","opacity":0},"encoding":{"x":{"field":"t","type":"quantitative","axis":{"orient":"top","values":[0,0.5,1,1.5,2,2.5,3,3.5,4,4.5,5],"labels":false,"title":null}},"y":{"field":"v","type":"quantitative","axis":{"orient":"right","values":[0.4,0.45,0.5,0.55,0.6,0.65,0.7,0.75,0.8],"labels":false,"title":null}}}}],"resolve":{"axis":{"x":"independent","y":"independent"}}}
],
"config":{
"font":"Liberation Serif",
"view":{"stroke":"#000000","strokeWidth":1.4},
"axis":{"domain":false,"grid":false,"ticks":true,"tickSize":-4,"tickColor":"#000000","tickWidth":1,"labelFont":"Liberation Serif","labelFontSize":13.5,"labelColor":"#000000","labelPadding":10,"labelFlush":false,"labelOverlap":false,"titleFont":"Liberation Serif","titleFontSize":14,"titleFontWeight":"normal","titleFontStyle":"italic","titleColor":"#000000","titlePadding":8},
"title":{"font":"Liberation Serif","fontSize":16,"fontStyle":"italic","fontWeight":"normal","offset":4,"color":"#000000","anchor":"middle"}
}
}
